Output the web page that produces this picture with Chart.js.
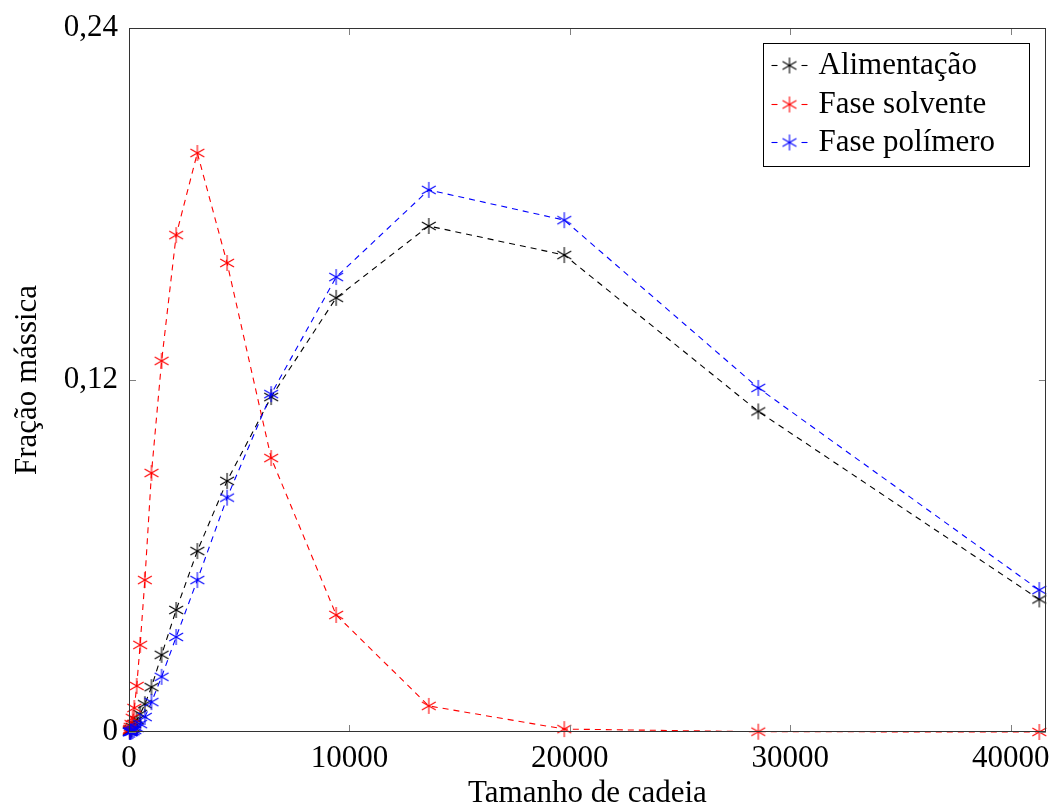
<!DOCTYPE html>
<html>
<head>
<meta charset="utf-8">
<script src="https://cdn.jsdelivr.net/npm/chart.js@4.4.1/dist/chart.umd.min.js"></script>
<style>
  html, body { margin: 0; padding: 0; background: #fff; }
  #wrap { width: 1055px; height: 812px; }
</style>
</head>
<body>
<div id="wrap"><canvas id="chart" width="1055" height="812"></canvas></div>
<script>
// chain length (x) and mass fraction of each phase (y)
var chainLength = [36, 52, 76, 112, 165, 240, 350, 505, 720, 1020, 1480, 2140, 3100, 4450, 6450, 9400, 13600, 19750, 28550, 41300];
var feed = [0.0002, 0.0004, 0.0007, 0.001, 0.0017, 0.0027, 0.0041, 0.0061, 0.0095, 0.0153, 0.0263, 0.0416, 0.0617, 0.0856, 0.1142, 0.148, 0.1725, 0.1626, 0.1093, 0.0452];
var solventPhase = [0.0006, 0.001, 0.0017, 0.0027, 0.0048, 0.0082, 0.0157, 0.0297, 0.0518, 0.0883, 0.1265, 0.1694, 0.1974, 0.1599, 0.0934, 0.0399, 0.0089, 0.001, 0.0001, 0.0];
var polymerPhase = [0.0, 0.0, 0.0001, 0.0002, 0.0003, 0.0007, 0.0014, 0.0027, 0.0051, 0.0102, 0.0188, 0.0324, 0.0518, 0.0799, 0.1152, 0.1551, 0.1848, 0.1745, 0.1173, 0.0484];

var seriesNames = ["Alimentação", "Fase solvente", "Fase polímero"];
var seriesColors = ["#000000", "#ff0000", "#0000ff"];
var xTicks = [0, 10000, 20000, 30000, 40000];
var yTicks = [0, 0.12, 0.24];

var fontFamily = "'Liberation Serif', 'DejaVu Serif', serif";

// six-ray asterisk like the pgfplots mark
function asterisk(color) {
    var c = document.createElement('canvas');
    c.width = 20; c.height = 20;
    var g = c.getContext('2d');
    g.strokeStyle = color;
    g.lineWidth = 1.1;
    var r = 8;
    [90, 30, 150].forEach(function (deg) {
        var a = deg * Math.PI / 180;
        g.beginPath();
        g.moveTo(10 - r * Math.cos(a), 10 - r * Math.sin(a));
        g.lineTo(10 + r * Math.cos(a), 10 + r * Math.sin(a));
        g.stroke();
    });
    return c;
}
var markers = seriesColors.map(asterisk);

function points(ys) {
    return chainLength.map(function (x, i) { return { x: x, y: ys[i] }; });
}

function series(i, ys) {
    return {
        label: seriesNames[i],
        data: points(ys),
        showLine: true,
        borderColor: seriesColors[i],
        backgroundColor: seriesColors[i],
        borderWidth: 1.1,
        borderDash: [6, 5],
        pointStyle: markers[i],
        pointRadius: 8,
        pointHoverRadius: 8,
        clip: false,
        order: 2 - i
    };
}

// box frame, inward ticks and legend box
var framePlugin = {
    id: 'frame',
    afterDatasetsDraw: function (chart) {
        var ctx = chart.ctx, a = chart.chartArea;
        var xs = chart.scales.x, ys = chart.scales.y;
        ctx.save();
        function seg(x1, y1, x2, y2) {
            ctx.beginPath(); ctx.moveTo(x1, y1); ctx.lineTo(x2, y2); ctx.stroke();
        }
        ctx.strokeStyle = '#808080';
        ctx.lineWidth = 1;
        xTicks.forEach(function (v) {
            var px = Math.round(xs.getPixelForValue(v)) + 0.5;
            seg(px, a.bottom, px, a.bottom - 7);
            seg(px, a.top, px, a.top + 7);
        });
        yTicks.forEach(function (v) {
            var py = Math.round(ys.getPixelForValue(v)) + 0.5;
            seg(a.left, py, a.left + 7, py);
            seg(a.right, py, a.right - 7, py);
        });
        ctx.strokeStyle = '#333';
        ctx.strokeRect(Math.round(a.left) + 0.5, Math.round(a.top) + 0.5,
            Math.round(a.width) - 1, Math.round(a.height) - 1);

        // legend
        ctx.font = '31px ' + fontFamily;
        var w = 266, h = 123;
        var bx = Math.round(a.right - 17 - w) + 0.5, by = Math.round(a.top + 15) + 0.5;
        ctx.fillStyle = '#fff';
        ctx.fillRect(bx, by, w, h);
        ctx.strokeStyle = '#000';
        ctx.strokeRect(bx, by, w, h);
        var rows = [22, 61, 99];
        seriesNames.forEach(function (n, i) {
            var cy = by + rows[i];
            ctx.strokeStyle = seriesColors[i];
            ctx.lineWidth = 1.1;
            seg(bx + 8, cy, bx + 14, cy);
            seg(bx + 38, cy, bx + 44, cy);
            ctx.drawImage(markers[i], bx + 26 - 10, cy - 10);
            ctx.fillStyle = '#000';
            ctx.textBaseline = 'middle';
            ctx.textAlign = 'left';
            ctx.fillText(n, bx + 55, cy);
        });
        ctx.restore();
    }
};

var tickFont = { family: fontFamily, size: 31 };

new Chart(document.getElementById('chart'), {
    type: 'scatter',
    data: {
        datasets: [
            series(0, feed),
            series(1, solventPhase),
            series(2, polymerPhase)
        ]
    },
    options: {
        responsive: false,
        animation: false,
        layout: { padding: { top: 28, right: 2, left: 0, bottom: 0 } },
        plugins: { legend: { display: false }, tooltip: { enabled: false } },
        scales: {
            x: {
                type: 'linear',
                min: 0,
                max: 41600,
                afterBuildTicks: function (s) { s.ticks = xTicks.map(function (v) { return { value: v }; }); },
                afterFit: function (s) { s.height = 80; s.paddingRight = 0; s.paddingLeft = 0; },
                grid: { display: false, drawTicks: false },
                border: { display: false },
                ticks: {
                    padding: 8, color: '#000', font: tickFont, maxRotation: 0, autoSkip: false,
                    callback: function (v) { return String(v); }
                },
                title: {
                    display: true, text: 'Tamanho de cadeia', color: '#000',
                    font: tickFont, padding: { top: 0, bottom: 0 }
                }
            },
            y: {
                type: 'linear',
                min: 0,
                max: 0.24,
                afterBuildTicks: function (s) { s.ticks = yTicks.map(function (v) { return { value: v }; }); },
                afterFit: function (s) { s.width = 129; s.paddingTop = 0; s.paddingBottom = 0; },
                grid: { display: false, drawTicks: false },
                border: { display: false },
                ticks: {
                    padding: 11, color: '#000', font: tickFont, autoSkip: false,
                    callback: function (v) { return v === 0 ? '0' : v.toFixed(2).replace('.', ','); }
                },
                title: {
                    display: true, text: 'Fração mássica', color: '#000',
                    font: tickFont, padding: { top: 9, bottom: 0 }
                }
            }
        }
    },
    plugins: [framePlugin]
});
</script>
</body>
</html>
